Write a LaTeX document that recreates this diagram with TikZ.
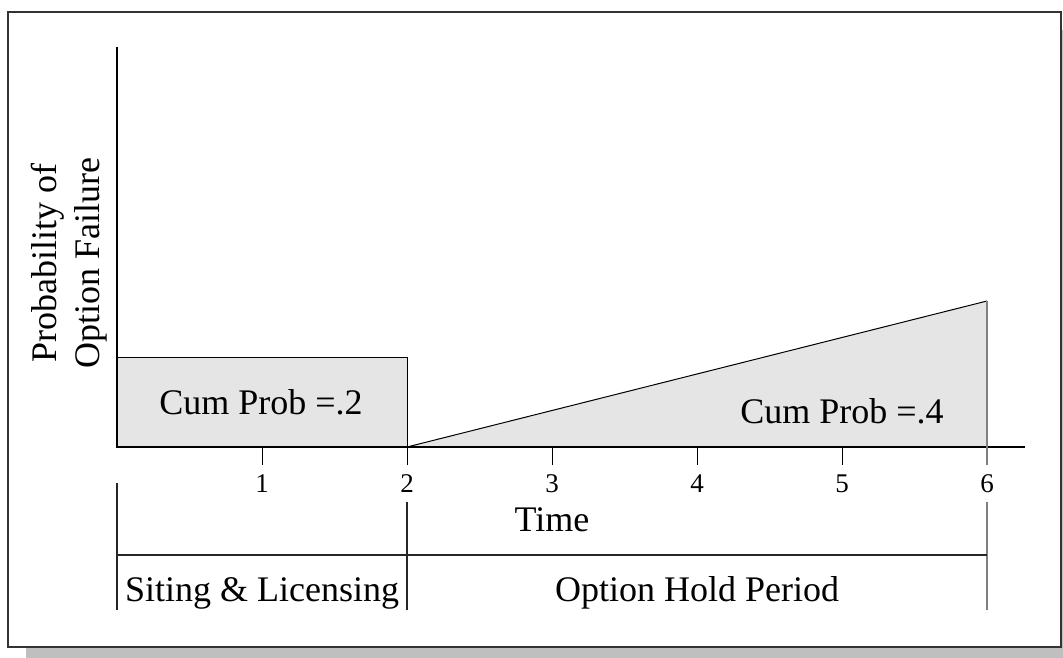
\documentclass[tikz,border=0pt]{standalone}
\usepackage{fontspec}
\setmainfont{Liberation Serif}
\begin{document}
\begin{tikzpicture}[x=1pt,y=-1pt,
  axisline/.style={line width=1.4pt,black},
  thinline/.style={line width=1.1pt,black!85},
  greyline/.style={line width=2pt,black!50},
  areafill/.style={fill=black!10},
  bigtext/.style={font=\fontsize{36}{43}\selectfont,inner sep=0pt,anchor=base},
  ticktext/.style={font=\fontsize{27}{32}\selectfont,inner sep=0pt,anchor=base}]
\useasboundingbox (0,0) rectangle (1063,658);
% shadow and frame
\fill[black!25] (26,30) rectangle (1063,658);
\draw[fill=white,line width=1.3pt,draw=black!80] (8,12) rectangle (1061,647);

% key points
\coordinate (o) at (117,447);
\coordinate (ytop) at (117,47);
\coordinate (xend) at (1025,447);
\coordinate (t2) at (407,447);
\coordinate (t6) at (987,447);
\coordinate (r2) at (407,357);
\coordinate (r0) at (117,357);
\coordinate (p6) at (987,301);

% shaded areas
\fill[areafill] (o) -- (r0) -- (r2) -- (t2) -- cycle;
\fill[areafill] (t2) -- (p6) -- (t6) -- cycle;
\draw[line width=1pt] (r0) -- (r2) -- (t2);
\draw[line width=1pt] (t2) -- (p6);

% axes
\draw[axisline] (ytop) -- (o) -- (xend);

% ticks and labels
\foreach \k/\x in {1/262,2/407,3/552,4/697,5/842} {
  \draw[line width=1pt] (\x,447) -- (\x,465);
  \node[ticktext] (lab\k) at (\x,492) {\k};
}
\draw[greyline] (p6) -- (987,465);
\node[ticktext] (lab6) at (987,492) {6};

\node[bigtext] (cum2) at (261,414) {Cum Prob =.2};
\node[bigtext] (cum4) at (842,423) {Cum Prob =.4};
\node[bigtext] (time) at (552,531) {Time};

\node[font=\fontsize{36}{43}\selectfont,align=center,rotate=90,inner sep=0pt] (ylab) at (69,263)
  {Probability of\\Option Failure};

% period bar
\coordinate (b0t) at (117,483);
\coordinate (b0b) at (117,610);
\coordinate (b2t) at (407,502);
\coordinate (b2b) at (407,610);
\coordinate (b6t) at (987,502);
\coordinate (b6b) at (987,610);
\coordinate (h0) at (117,555);
\coordinate (h6) at (987,555);
\draw[thinline] (b0t) -- (b0b);
\draw[thinline] (b2t) -- (b2b);
\draw[greyline] (b6t) -- (b6b);
\draw[thinline] (h0) -- (h6);
\node[bigtext] (siting) at (262,601) {Siting \& Licensing};
\node[bigtext] (hold) at (697,601) {Option Hold Period};
\end{tikzpicture}
\end{document}
